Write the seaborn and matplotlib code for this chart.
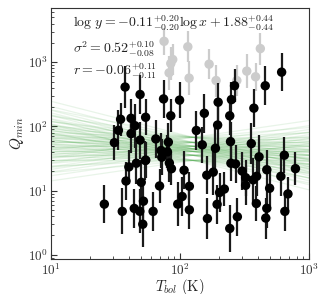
import numpy as np
import pandas as pd
import seaborn as sns
import matplotlib.pyplot as plt

# log10 values
logT_black = [1.574, 1.690, 1.539, 1.620, 1.733, 1.651, 1.620, 1.491, 1.522, 1.690,
              1.812, 1.413, 1.552, 1.581, 1.603, 1.661, 1.734, 1.645, 1.699, 1.716,
              1.688, 1.711, 1.791, 1.841, 1.858, 1.731, 1.872, 1.996, 1.928, 2.188,
              2.126, 2.172, 2.291, 1.909, 1.853, 1.902, 1.917, 1.933, 2.031, 2.072,
              2.016, 1.982, 2.072,
              2.274, 2.207, 2.257, 2.306, 2.343, 2.287, 2.212, 2.391, 2.394, 2.430,
              2.385, 2.552, 2.612, 2.481, 2.508, 2.566, 2.593, 2.508, 2.444, 2.591,
              2.672, 2.672, 2.664, 2.694,
              2.808, 2.781, 2.836, 2.812, 2.894, 2.295, 2.398, 2.385, 2.422, 2.660,
              2.572, 2.787]
logQ_black = [2.613, 2.497, 2.111, 2.126, 2.142, 2.010, 1.887, 1.747, 1.938, 1.786,
              1.805, 0.789, 0.676, 1.149, 1.368, 1.426, 1.474, 0.722, 1.129, 0.835,
              0.677, 0.476, 0.676, 1.072, 1.520, 1.469, 2.428, 2.409, 2.165, 2.204,
              1.936, 1.713, 2.021, 1.755, 1.624, 1.604, 1.430, 1.341, 1.317, 1.067,
              0.908, 0.789, 0.700,
              1.659, 1.240, 1.287, 0.970, 1.024, 0.786, 0.564, 1.763, 1.426, 1.415,
              0.410, 1.732, 1.526, 1.304, 1.201, 1.167, 1.222, 1.082, 0.592, 0.799,
              1.325, 0.724, 0.572, 1.036,
              1.551, 1.222, 0.948, 0.676, 1.342, 2.377, 2.417, 2.165, 2.633, 2.633,
              2.284, 2.845]
err_black = [0.32, 0.30, 0.26, 0.30, 0.28, 0.34, 0.30, 0.27, 0.31, 0.29,
             0.30, 0.30, 0.36, 0.30, 0.26, 0.32, 0.28, 0.30, 0.34, 0.32,
             0.34, 0.36, 0.30, 0.26, 0.28, 0.30, 0.30, 0.28, 0.26, 0.30,
             0.30, 0.28, 0.33, 0.30, 0.28, 0.26, 0.30, 0.26, 0.30, 0.22,
             0.30, 0.34, 0.30,
             0.32, 0.30, 0.36, 0.30, 0.26, 0.30, 0.32, 0.30, 0.28, 0.30,
             0.36, 0.32, 0.34, 0.30, 0.28, 0.34, 0.30, 0.30, 0.30, 0.28,
             0.30, 0.30, 0.32, 0.30,
             0.28, 0.30, 0.26, 0.30, 0.26, 0.30, 0.28, 0.30, 0.26, 0.30,
             0.30, 0.30]

logT_gray = [1.876, 2.060, 1.928, 1.943, 1.915, 2.070, 2.225, 2.279, 2.440, 2.517, 2.585, 2.622]
logQ_gray = [3.325, 3.240, 2.980, 3.042, 2.834, 2.752, 2.969, 2.714, 2.714, 2.861, 2.773, 3.212]
err_gray = [0.21, 0.24, 0.25, 0.24, 0.27, 0.26, 0.23, 0.25, 0.24, 0.26, 0.22, 0.25]

# fit draws: slopes and log Q at the pivot log T = 2.1
fit_slopes = [-0.51, -0.39, -0.30, -0.22, -0.16, -0.11, -0.06, 0.00, 0.08, 0.17, 0.29]
fit_pivot = [1.47, 1.55, 1.61, 1.65, 1.69, 1.75, 1.83]
pivot = 2.1

sns.set_style("ticks")
plt.rcParams['font.family'] = 'serif'
plt.rcParams['font.serif'] = ['cmr10']
plt.rcParams['mathtext.fontset'] = 'cm'
plt.rcParams['axes.formatter.use_mathtext'] = True

black = pd.DataFrame({'Tbol': 10 ** np.array(logT_black), 'Q': 10 ** np.array(logQ_black),
                      'e': err_black})
gray = pd.DataFrame({'Tbol': 10 ** np.array(logT_gray), 'Q': 10 ** np.array(logQ_gray),
                     'e': err_gray})

fig = plt.figure(figsize=(3.19, 2.94), dpi=100)
ax = fig.add_axes([0.16, 0.118, 0.809, 0.855])
ax.set_xscale('log')
ax.set_yscale('log')

lx = np.array([1.0, 3.0])
for s in fit_slopes:
    for p in fit_pivot:
        ax.plot(10 ** lx, 10 ** (p + s * (lx - pivot)), color='#35a035', alpha=0.11,
                lw=0.9, zorder=1)

def bars(df, color, z):
    lo = df['Q'] - df['Q'] / 10 ** df['e']
    hi = df['Q'] * 10 ** df['e'] - df['Q']
    ax.errorbar(df['Tbol'], df['Q'], yerr=[lo, hi], fmt='none', ecolor=color,
                elinewidth=1.6, capsize=0, zorder=z)

bars(gray, '#cccccc', 2)
sns.scatterplot(data=gray, x='Tbol', y='Q', color='#cccccc', s=46, edgecolor='none', ax=ax, zorder=3)
bars(black, '#1a1a1a', 4)
sns.scatterplot(data=black, x='Tbol', y='Q', color='black', s=46, edgecolor='none', ax=ax, zorder=5)

ax.set_xlim(10, 1000)
ax.set_ylim(0.85, 7000)
ax.set_xlabel(r'$T_{bol}\ \mathrm{(K)}$', fontsize=10.5, labelpad=-1)
ax.set_ylabel(r'$Q_{min}$', fontsize=11, labelpad=1)
ax.tick_params(which='both', direction='in', labelsize=9.5, colors='#333333', pad=2.5)
ax.tick_params(which='major', length=4)
ax.tick_params(which='minor', length=2)
for sp in ax.spines.values():
    sp.set_color('#333333')

ax.text(0.085, 0.937, r'$\log\,y = {-0.11}^{+0.20}_{-0.20}\log x + 1.88^{+0.44}_{-0.44}$',
        transform=ax.transAxes, fontsize=10, va='center', color='#222222')
ax.text(0.085, 0.834, r'$\sigma^2 = 0.52^{+0.10}_{-0.08}$',
        transform=ax.transAxes, fontsize=10, va='center', color='#222222')
ax.text(0.085, 0.747, r'$r = {-0.06}^{+0.11}_{-0.11}$',
        transform=ax.transAxes, fontsize=10, va='center', color='#222222')

fig.savefig('out.png', dpi=100)
